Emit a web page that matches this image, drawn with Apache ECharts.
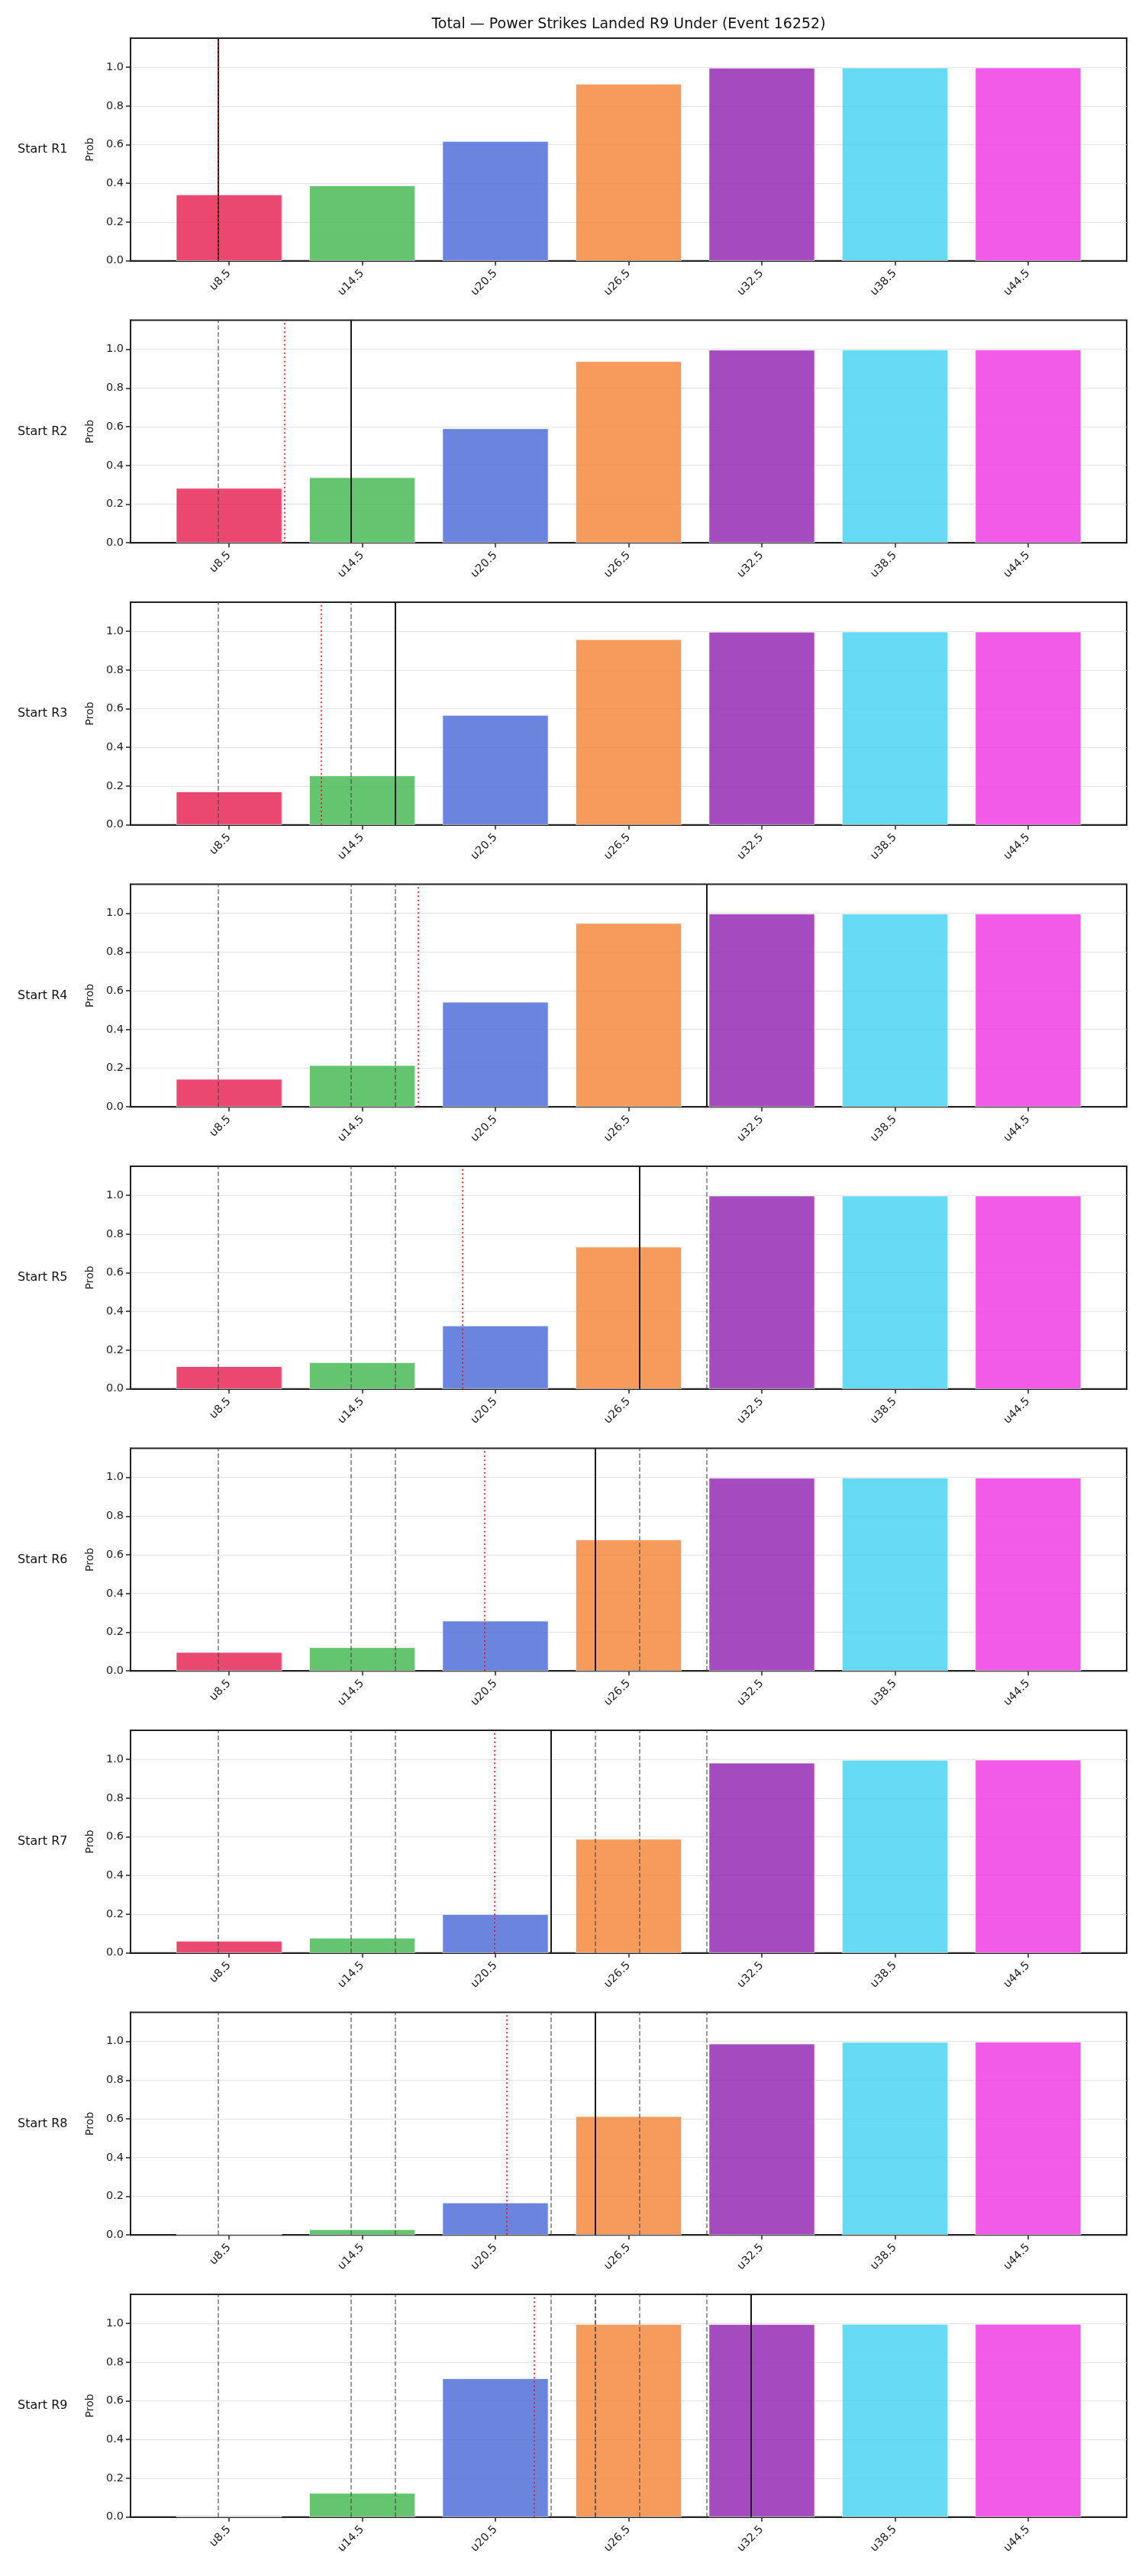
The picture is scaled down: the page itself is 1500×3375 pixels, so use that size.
<!DOCTYPE html>
<html>
<head>
<meta charset="utf-8">
<script src="https://cdn.jsdelivr.net/npm/echarts@6/dist/echarts.min.js"></script>
<style>
html, body { margin: 0; background: #fff; }
#chart { width: 1500px; height: 3375px; }
</style>
</head>
<body>
<div id="chart"></div>
<script>
// 盘口线 (x 轴刻度)
const lineLabels = ['u8.5', 'u14.5', 'u20.5', 'u26.5', 'u32.5', 'u38.5', 'u44.5']
const lineValues = [8.5, 14.5, 20.5, 26.5, 32.5, 38.5, 44.5]
const roundLabels = ['Start R1', 'Start R2', 'Start R3', 'Start R4', 'Start R5', 'Start R6', 'Start R7', 'Start R8', 'Start R9']
const yTicks = [0, 0.2, 0.4, 0.6, 0.8, 1.0]

// 每一回合开始时的概率
const probR1 = [0.342, 0.389, 0.618, 0.914, 0.997, 0.998, 0.998]
const probR2 = [0.283, 0.338, 0.591, 0.938, 0.997, 0.998, 0.998]
const probR3 = [0.172, 0.255, 0.567, 0.958, 0.997, 0.998, 0.998]
const probR4 = [0.144, 0.215, 0.542, 0.949, 0.998, 0.998, 0.998]
const probR5 = [0.117, 0.137, 0.327, 0.734, 0.998, 0.998, 0.998]
const probR6 = [0.097, 0.122, 0.259, 0.678, 0.997, 0.998, 0.998]
const probR7 = [0.062, 0.078, 0.200, 0.589, 0.982, 0.997, 0.998]
const probR8 = [0.005, 0.029, 0.167, 0.613, 0.988, 0.997, 0.998]
const probR9 = [0.003, 0.124, 0.716, 0.996, 0.996, 0.997, 0.997]
const probs = [probR1, probR2, probR3, probR4, probR5, probR6, probR7, probR8, probR9]

// 竖线: 实线为当前值, 虚线为之前回合的值, 红色点线为预测
const currentMarks = [8, 14, 16, 30, 27, 25, 23, 25, 32]
const projectedMarks = [8, 11, 12.65, 17, 19, 20, 20.45, 21, 22.23]

const barColors = ['#e72857', '#4aba56', '#516ed8', '#f48a3f', '#962bb4', '#4cd3f1', '#f03ee4']

const chart = echarts.init(document.getElementById('chart'), null, { renderer: 'canvas' })

const gridLeft = 171
const gridWidth = 1305
const firstTop = 50
const pitch = 369.5
const gridHeight = 291.7

const grids = []
const xAxes = []
const yAxes = []
const series = []
const graphics = [{
  type: 'text',
  x: gridLeft + gridWidth / 2,
  y: 32,
  style: {
    text: 'Total — Power Strikes Landed R9 Under (Event 16252)',
    font: '19px "DejaVu Sans"',
    fill: '#111',
    textAlign: 'center',
    textVerticalAlign: 'middle'
  }
}]

probs.forEach((row, i) => {
  const top = firstTop + pitch * i
  grids.push({
    left: gridLeft,
    top: top,
    width: gridWidth,
    height: gridHeight,
    show: true,
    borderColor: '#222',
    borderWidth: 2,
    containLabel: false
  })
  xAxes.push({
    type: 'value',
    gridIndex: i,
    min: 4.06,
    max: 48.94,
    axisLine: { show: true, onZero: false, lineStyle: { color: '#222', width: 2 } },
    axisTick: { show: true, customValues: lineValues, length: 6, lineStyle: { color: '#222', width: 1.5 } },
    axisLabel: {
      customValues: lineValues,
      formatter: (v) => lineLabels[lineValues.indexOf(v)],
      rotate: 45,
      margin: 14,
      fontSize: 14.5,
      fontFamily: 'DejaVu Sans',
      color: '#222'
    },
    splitLine: { show: false }
  })
  yAxes.push({
    type: 'value',
    gridIndex: i,
    min: 0,
    max: 1.15,
    interval: 0.2,
    name: 'Prob',
    nameLocation: 'middle',
    nameGap: 46,
    nameTextStyle: { fontSize: 14, fontFamily: 'DejaVu Sans', color: '#222' },
    axisLine: { show: true, lineStyle: { color: '#222', width: 2 } },
    axisTick: { show: true, customValues: yTicks, length: 6, lineStyle: { color: '#222', width: 1.5 } },
    axisLabel: {
      customValues: yTicks,
      formatter: (v) => v.toFixed(1),
      margin: 9,
      fontSize: 14.5,
      fontFamily: 'DejaVu Sans',
      color: '#222'
    },
    splitLine: { show: true, lineStyle: { color: '#e3e3e3', width: 1.2 } }
  })

  const markData = []
  currentMarks.slice(0, i).forEach((v) => {
    markData.push({ xAxis: v, lineStyle: { color: 'rgba(70,70,70,0.75)', width: 1.5, type: [6, 3] } })
  })
  markData.push({ xAxis: currentMarks[i], lineStyle: { color: '#1a1a1a', width: 2, type: 'solid' } })
  markData.push({ xAxis: projectedMarks[i], lineStyle: { color: 'rgba(240,20,20,0.85)', width: 2, type: [2, 3.5] } })

  series.push({
    type: 'bar',
    xAxisIndex: i,
    yAxisIndex: i,
    barWidth: 139,
    data: lineValues.map((x, j) => ({
      value: [x, row[j]],
      itemStyle: { color: barColors[j], opacity: 0.85, borderColor: '#fff', borderWidth: 0.8 }
    })),
    markLine: {
      silent: true,
      symbol: ['none', 'none'],
      label: { show: false },
      data: markData
    }
  })

  graphics.push({
    type: 'text',
    x: 23,
    y: top + gridHeight / 2,
    style: {
      text: roundLabels[i],
      font: '16px "DejaVu Sans"',
      fill: '#111',
      textAlign: 'left',
      textVerticalAlign: 'middle'
    }
  })
})

const option = {
  animation: false,
  backgroundColor: '#fff',
  grid: grids,
  xAxis: xAxes,
  yAxis: yAxes,
  series: series,
  graphic: graphics
}
chart.setOption(option)
</script>
</body>
</html>
